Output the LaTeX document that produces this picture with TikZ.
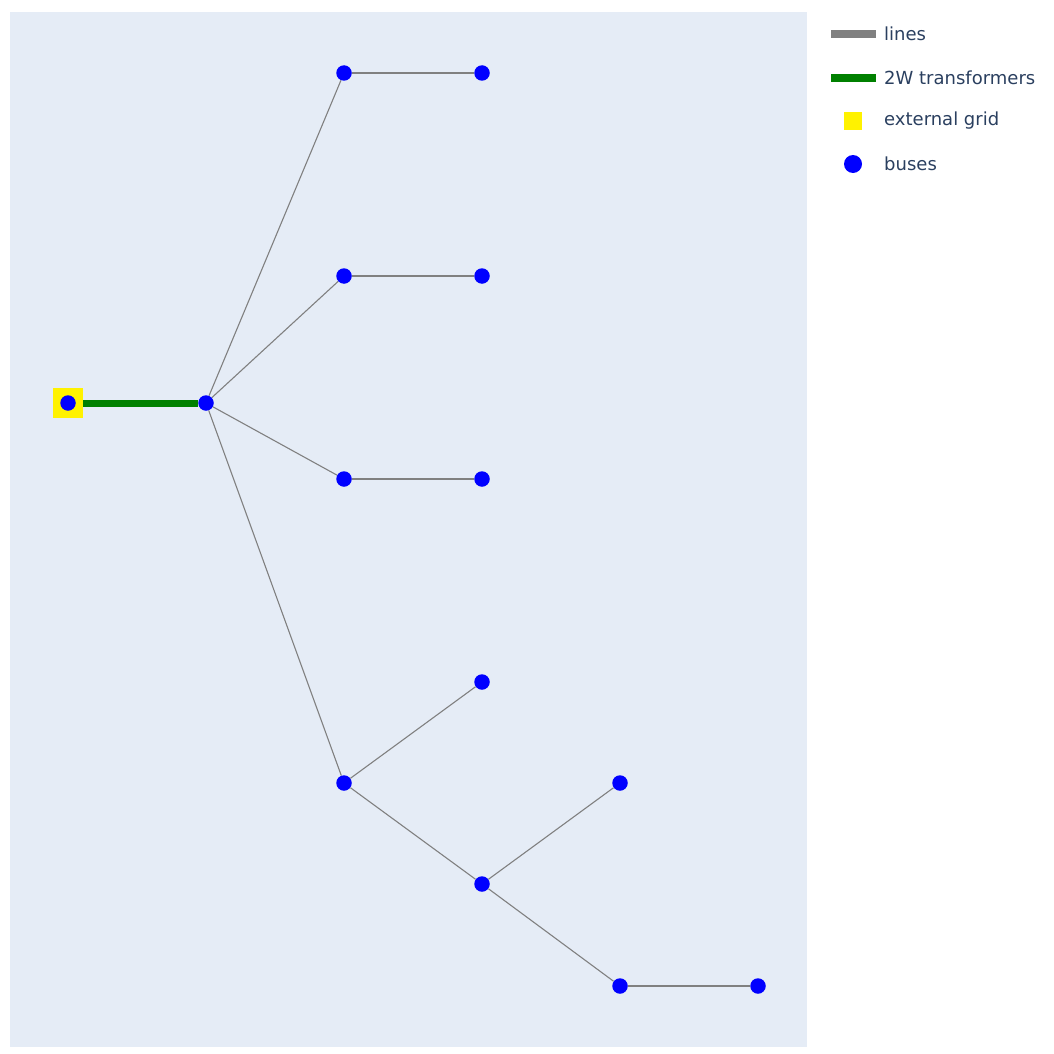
\documentclass[tikz,border=0pt]{standalone}
\usepackage{fontspec}
\setmainfont{DejaVu Sans}
\usetikzlibrary{
  positioning,  % Function "of" (e.g. [right=of x])
  backgrounds,  % Predefined layer named "background"
}
\definecolor{plotbg}{HTML}{E5ECF6}
\definecolor{legendtext}{HTML}{2A3F5F}
\definecolor{trafogreen}{RGB}{0,128,0}
\tikzset{
  font=\fontsize{18}{21}\selectfont,
  bus/.style={
    circle,
    fill=blue,
    inner sep=0pt,
    minimum size=15.5pt
  },
  ext grid/.style={
    rectangle,
    fill=yellow,
    inner sep=0pt,
    minimum size=30pt
  },
  line/.style={
    draw=gray,
    line width=1.1pt
  },
  trafo/.style={
    draw=trafogreen,
    line width=7pt
  },
  legend line/.style={
    line width=7.5pt
  },
  legend entry/.style={
    anchor=west,
    text=legendtext,
    inner sep=0pt
  },
  grid/.style={
    x=1pt,
    y=-1pt
  }
}

\begin{document}
\begin{tikzpicture}[grid]
\useasboundingbox (0,0) rectangle (1054,1054);
% buses
\node[ext grid] (g)  at (68,403)  {};
\node[bus]      (0)  at (68,403)  {};
\node[bus]      (1)  at (206,403) {};
\node[bus]      (2)  at (344,73)  {};
\node[bus]      (3)  at (482,73)  {};
\node[bus]      (4)  at (344,276) {};
\node[bus]      (5)  at (482,276) {};
\node[bus]      (6)  at (344,479) {};
\node[bus]      (7)  at (482,479) {};
\node[bus]      (8)  at (344,783) {};
\node[bus]      (9)  at (482,682) {};
\node[bus]      (10) at (482,884) {};
\node[bus]      (11) at (620,783) {};
\node[bus]      (12) at (620,986) {};
\node[bus]      (13) at (758,986) {};
\begin{pgfonlayer}{background}
  \fill[plotbg] (10,12) rectangle (807,1047);
  \path[trafo] (0) edge (1);
  \path[line] (1)  edge (2)
              (1)  edge (4)
              (1)  edge (6)
              (1)  edge (8)
              (2)  edge (3)
              (4)  edge (5)
              (6)  edge (7)
              (8)  edge (9)
              (8)  edge (10)
              (10) edge (11)
              (10) edge (12)
              (12) edge (13);
\end{pgfonlayer}
% legend
\coordinate (l1a) at (831,34);
\coordinate (l1b) at (876,34);
\coordinate (l2a) at (831,78);
\coordinate (l2b) at (876,78);
\draw[legend line,gray]       (l1a) -- (l1b);
\draw[legend line,trafogreen] (l2a) -- (l2b);
\node[ext grid,minimum size=18pt] (lg) at (853,121) {};
\node[bus,minimum size=18pt]      (lb) at (853,164) {};
\node[legend entry] (t1) at (884,34)  {lines};
\node[legend entry] (t2) at (884,78)  {2W transformers};
\node[legend entry] (t3) at (884,121) {external grid};
\node[legend entry] (t4) at (884,164) {buses};
\end{tikzpicture}
\end{document}
